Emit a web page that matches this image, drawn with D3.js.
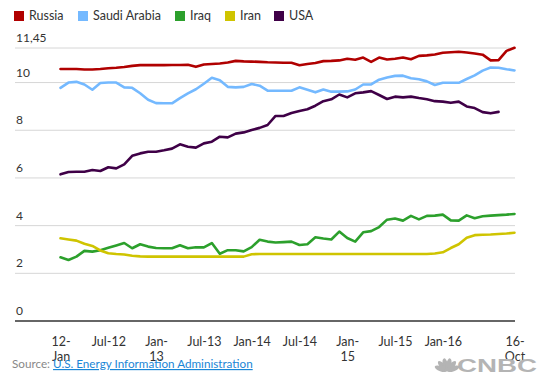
<!DOCTYPE html>
<html><head><meta charset="utf-8">
<script src="https://cdn.jsdelivr.net/npm/d3@7"></script>
<style>
html,body{margin:0;padding:0;background:#fff;}
svg{display:block;font-family:Lato,"Open Sans",sans-serif;}
</style></head>
<body>
<svg id="chart" width="543" height="380"></svg>
<script>
// ---- data (monthly, Jan 2012 – Oct 2016, million barrels/day) ----
const seriesNames = ["Russia","Saudi Arabia","Iraq","Iran","USA"];
const russia = [10.57,10.57,10.57,10.55,10.55,10.57,10.6,10.62,10.65,10.7,10.73,10.73,10.73,10.73,10.74,10.74,10.75,10.66,10.76,10.78,10.8,10.84,10.91,10.89,10.88,10.87,10.85,10.84,10.83,10.83,10.73,10.78,10.82,10.9,10.91,10.93,11.0,10.96,11.05,10.87,11.05,10.97,11.0,11.05,10.98,11.12,11.14,11.18,11.25,11.27,11.29,11.26,11.22,11.17,10.93,10.94,11.33,11.46];
const saudi = [9.78,10.0,10.03,9.92,9.7,9.98,10.0,10.0,9.8,9.78,9.55,9.28,9.14,9.13,9.13,9.35,9.55,9.72,9.95,10.2,10.1,9.82,9.8,9.82,9.94,9.87,9.66,9.66,9.66,9.66,9.8,9.7,9.59,9.71,9.62,9.62,9.63,9.71,9.92,9.92,10.12,10.21,10.28,10.29,10.18,10.14,10.05,9.9,9.99,9.99,9.99,10.15,10.3,10.5,10.63,10.62,10.56,10.51];
const iraq = [2.67,2.56,2.7,2.94,2.91,2.97,3.07,3.17,3.27,3.05,3.22,3.12,3.06,3.05,3.05,3.18,3.05,3.09,3.09,3.27,2.82,2.97,2.97,2.92,3.1,3.41,3.33,3.29,3.31,3.33,3.19,3.22,3.51,3.46,3.42,3.75,3.48,3.33,3.72,3.77,3.94,4.25,4.3,4.21,4.41,4.26,4.41,4.42,4.46,4.22,4.21,4.43,4.31,4.39,4.42,4.44,4.46,4.49];
const iran = [3.47,3.42,3.37,3.24,3.15,2.96,2.84,2.81,2.79,2.74,2.71,2.7,2.7,2.7,2.7,2.7,2.7,2.7,2.7,2.7,2.7,2.7,2.7,2.7,2.8,2.81,2.81,2.81,2.81,2.81,2.81,2.81,2.81,2.81,2.81,2.81,2.81,2.81,2.81,2.81,2.81,2.81,2.81,2.81,2.81,2.81,2.81,2.83,2.88,3.06,3.22,3.49,3.6,3.62,3.63,3.65,3.67,3.7];
const usa = [6.15,6.25,6.26,6.26,6.33,6.29,6.45,6.4,6.57,6.93,7.03,7.1,7.1,7.16,7.23,7.41,7.31,7.27,7.45,7.52,7.73,7.7,7.86,7.91,8.01,8.1,8.22,8.6,8.6,8.72,8.81,8.88,9.03,9.22,9.3,9.5,9.38,9.55,9.59,9.64,9.48,9.31,9.41,9.38,9.41,9.35,9.3,9.22,9.2,9.15,9.2,9.0,8.93,8.76,8.71,8.77,null,null];
const yTicks = [0,2,4,6,8,10,11.45];
const yTickLabels = ["0","2","4","6","8","10","11,45"];
const xTickIndex = [0,6,12,18,24,30,36,42,48,57];
const xTickLabels = ["12-Jan","Jul-12","Jan-13","Jul-13","Jan-14","Jul-14","Jan-15","Jul-15","Jan-16","16-Oct"];
const wrappedLabels = ["12-Jan","Jan-13","Jan-15","16-Oct"];

const colors = ["#b00000","#74b9ff","#2ca02c","#cfc400","#3f0047"];
const allSeries = [russia, saudi, iraq, iran, usa];

const svg = d3.select("#chart");
const nMonths = russia.length;
const x = d3.scaleLinear().domain([0, nMonths-1]).range([60.5, 514.5]);
const y = d3.scaleLinear().domain([0, 11.45]).range([321, 48]);
const gridLeft = 15, gridRight = 515;

// legend
const legendX = [14, 78, 175, 225, 274];
const leg = svg.append("g");
seriesNames.forEach((n,i)=>{
  leg.append("rect").attr("x",legendX[i]).attr("y",11).attr("width",10).attr("height",10).attr("fill",colors[i]);
  leg.append("text").attr("x",legendX[i]+15).attr("y",20).attr("font-size",12.5).attr("fill","#333").text(n);
});

// gridlines + y labels
const grid = svg.append("g");
yTicks.forEach((t,i)=>{
  grid.append("line").attr("x1",gridLeft).attr("x2",gridRight)
    .attr("y1",y(t)).attr("y2",y(t))
    .attr("stroke", t===0 ? "#333" : "#d6d6d6")
    .attr("stroke-width", t===0 ? 1.3 : 1);
  grid.append("text").attr("x",16).attr("y",y(t)-6).attr("font-size",12).attr("fill","#333").text(yTickLabels[i]);
});

// lines
const line = d3.line().defined(d=>d!==null).x((d,i)=>x(i)).y(d=>y(d)).curve(d3.curveLinear);
allSeries.forEach((s,i)=>{
  svg.append("path").datum(s).attr("d",line).attr("fill","none")
    .attr("stroke",colors[i]).attr("stroke-width",2.6)
    .attr("stroke-linejoin","round").attr("stroke-linecap","round");
});

// x axis
const xAxis = d3.axisBottom(x).tickValues(xTickIndex).tickSize(0).tickPadding(0)
  .tickFormat((d,i)=>xTickLabels[i]);
const gx = svg.append("g").attr("transform","translate(0,333)").call(xAxis);
gx.select(".domain").remove();
gx.selectAll("text").attr("font-size",12.5).attr("fill","#333").attr("font-family","Lato,'Open Sans',sans-serif")
  .attr("dy",null).attr("y",13)
  .each(function(d,i){
    const lab = xTickLabels[i];
    const t = d3.select(this);
    if (wrappedLabels.includes(lab)) {
      const k = lab.indexOf("-");
      t.text(null);
      t.append("tspan").attr("x",0).attr("y",13).text(lab.slice(0,k+1));
      t.append("tspan").attr("x",0).attr("y",27.5).text(lab.slice(k+1));
    }
  });

// source
const src = svg.append("text").attr("x",12).attr("y",368).attr("font-size",11.7);
src.append("tspan").attr("fill","#888").text("Source: ");
src.append("tspan").attr("fill","#1a86d6").attr("text-decoration","underline").text("U.S. Energy Information Administration");

// CNBC logo
const logo = svg.append("g").attr("fill","#b4b4b4");
const cx = 447, cy = 371;
[-70,-42,-14,14,42,70].forEach(a=>{
  logo.append("ellipse").attr("cx",0).attr("cy",-6.5).attr("rx",2.6).attr("ry",6.5)
    .attr("transform",`translate(${cx},${cy}) rotate(${a})`);
});
logo.append("text").attr("x",457).attr("y",371.5).attr("font-family","'Liberation Sans',Arial,sans-serif")
  .attr("font-weight","bold").attr("font-size",18).attr("textLength",80).attr("lengthAdjust","spacingAndGlyphs").text("CNBC");
</script>
</body></html>
